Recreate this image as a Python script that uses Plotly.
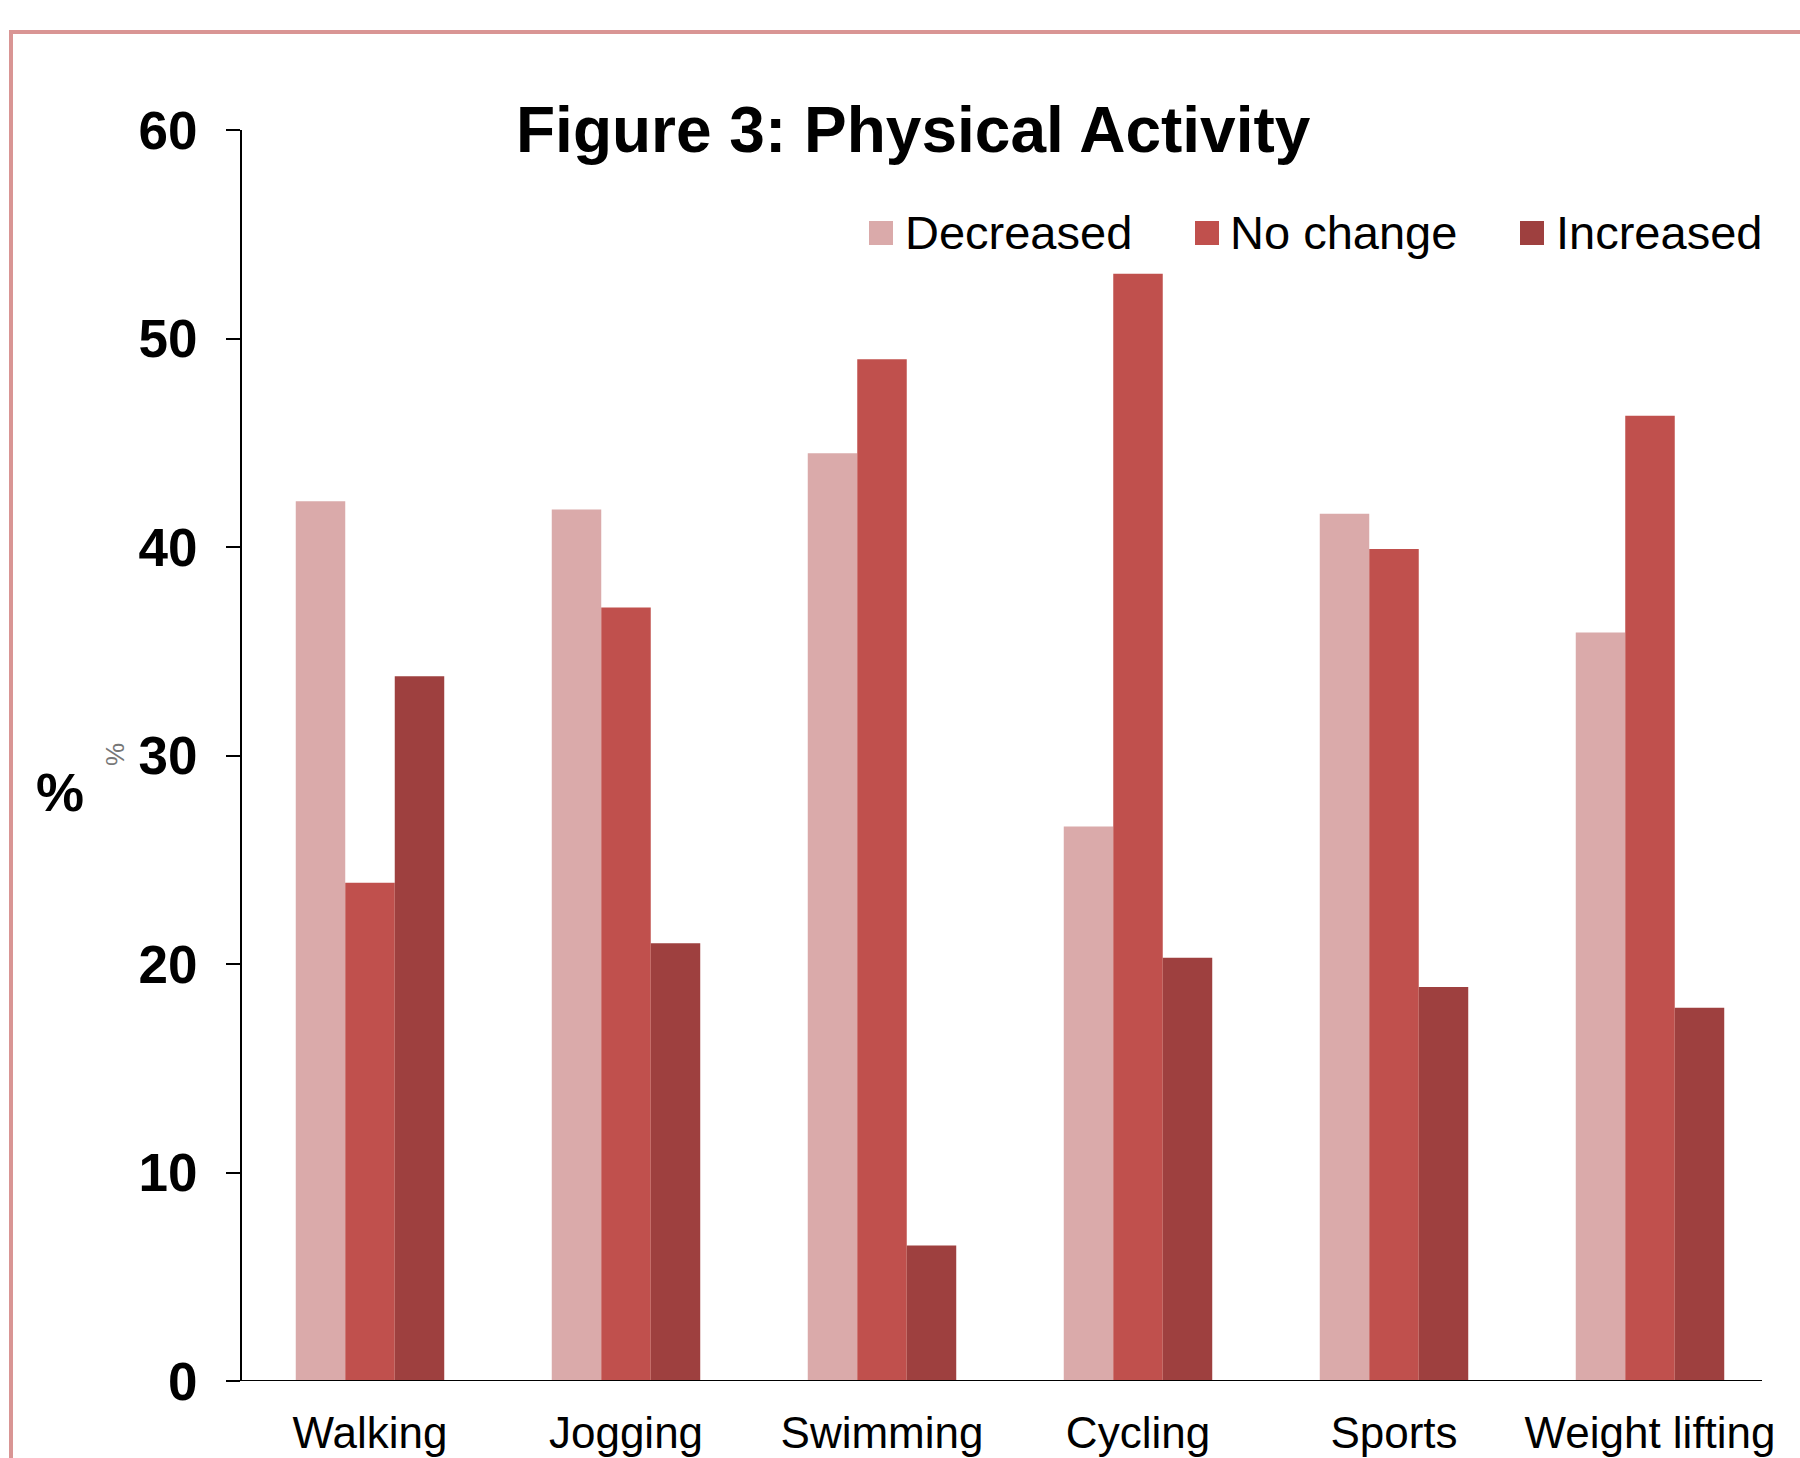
import plotly.graph_objects as go

categories = ["Walking", "Jogging", "Swimming", "Cycling", "Sports", "Weight lifting"]
decreased = [42.2, 41.8, 44.5, 26.6, 41.6, 35.9]
no_change = [23.9, 37.1, 49.0, 53.1, 39.9, 46.3]
increased = [33.8, 21.0, 6.5, 20.3, 18.9, 17.9]
series_names = ["Decreased", "No change", "Increased"]
y_ticks = [0, 10, 20, 30, 40, 50, 60]

colors = ["#DAAAAA", "#C0504D", "#9E403F"]
FONT = "Liberation Sans, Arial, sans-serif"

W, H = 1800, 1458
L, R, T, B = 242, 22, 130, 77
pw, ph = W - L - R, H - T - B

def px(x):
    return (x - L) / pw

def py(y):
    return (H - B - y) / ph

fig = go.Figure()
for name, vals, c in zip(series_names, [decreased, no_change, increased], colors):
    fig.add_trace(go.Bar(x=categories, y=vals, name=name, marker=dict(color=c, line=dict(width=0)),
                         showlegend=False))

shapes = []
# outer pink border
shapes.append(dict(type="rect", xref="paper", yref="paper", x0=px(11), x1=px(1815), y0=py(1475), y1=py(32),
                   line=dict(color="#D99594", width=4), fillcolor="rgba(0,0,0,0)", layer="below"))
# x axis line (extends left past the y axis by the tick length, ends before plot edge)
shapes.append(dict(type="line", xref="paper", yref="y", x0=px(228), x1=px(1762), y0=0, y1=0,
                   line=dict(color="black", width=2)))

annotations = []
# title
annotations.append(dict(text="<b>Figure 3: Physical Activity</b>", xref="paper", yref="paper",
                        x=px(913), y=py(130), xanchor="center", yanchor="middle", showarrow=False,
                        font=dict(family=FONT, size=64, color="black")))
# big % label
annotations.append(dict(text="<b>%</b>", xref="paper", yref="paper", x=px(60), y=py(792),
                        xanchor="center", yanchor="middle", showarrow=False,
                        font=dict(family=FONT, size=54, color="black")))
# small grey rotated %
annotations.append(dict(text="%", xref="paper", yref="paper", x=px(115), y=py(755),
                        xanchor="center", yanchor="middle", showarrow=False, textangle=-90,
                        font=dict(family=FONT, size=26, color="#777777")))

# legend (manual)
leg_items = [(869, 906), (1195, 1231), (1520, 1557)]
for (sx, tx), name, c in zip(leg_items, series_names, colors):
    shapes.append(dict(type="rect", xref="paper", yref="paper", x0=px(sx), x1=px(sx + 24),
                       y0=py(233 + 12), y1=py(233 - 12), fillcolor=c, line=dict(width=0)))
    annotations.append(dict(text=name, xref="paper", yref="paper", x=px(tx - 3), y=py(232),
                            xanchor="left", yanchor="middle", showarrow=False,
                            font=dict(family=FONT, size=47, color="black")))

fig.update_layout(
    width=W, height=H,
    margin=dict(l=L, r=R, t=T, b=B),
    paper_bgcolor="white", plot_bgcolor="white",
    barmode="group", bargap=0.42, bargroupgap=0,
    shapes=shapes, annotations=annotations,
    xaxis=dict(showgrid=False, showline=False, ticks="", ticklabelstandoff=22, automargin=False,
               tickfont=dict(family=FONT, size=44, color="black"), range=[-0.5, 5.5]),
    yaxis=dict(range=[0, 60], tickvals=y_ticks, showgrid=False, zeroline=False, showline=True,
               linecolor="black", linewidth=2, ticks="outside", ticklen=14, tickwidth=2,
               tickcolor="black", ticklabelstandoff=18, automargin=False,
               tickfont=dict(family=FONT, size=53, color="black", weight="bold")),
)

fig.write_html("out.html")
